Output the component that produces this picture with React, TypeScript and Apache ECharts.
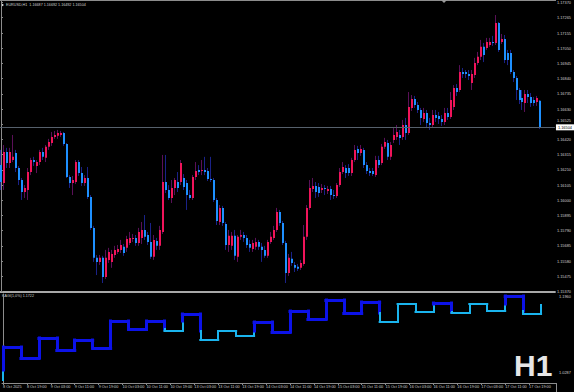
import { useEffect, useRef } from "react";
import * as echarts from "echarts";

// ---- Candle data (EURUSD H1), bar 0 = 8 Oct 11:00 ... bar 180 = 17 Oct 23:00 ----
const OPEN = [
  1.16243, 1.16119, 1.16334, 1.16257, 1.16278, 1.16327, 1.16223, 1.1614, 1.16057, 1.16071,
  1.16195, 1.16278, 1.16237, 1.16264, 1.16334, 1.16293, 1.16369, 1.16396, 1.16438, 1.16445,
  1.16451, 1.16465, 1.16389, 1.16161, 1.16119, 1.16126, 1.16264, 1.16188, 1.16119, 1.16154,
  1.16023, 1.15809, 1.15602, 1.15574, 1.15602, 1.1547, 1.15588, 1.15574, 1.15622, 1.15643,
  1.15657, 1.15678, 1.15671, 1.15705, 1.15733, 1.1574, 1.15705, 1.1574, 1.15795, 1.1576,
  1.15712, 1.15609, 1.15719, 1.15685, 1.15781, 1.16126, 1.16071, 1.16016, 1.16085, 1.16126,
  1.16126, 1.16154, 1.16119, 1.16036, 1.16016, 1.16161, 1.16209, 1.16202, 1.16209, 1.16202,
  1.16147, 1.1614, 1.16002, 1.1585, 1.15947, 1.15836, 1.15691, 1.15685, 1.15754, 1.15609,
  1.15747, 1.1576, 1.1574, 1.15698, 1.15664, 1.15678, 1.15712, 1.15678, 1.15657, 1.15616,
  1.15712, 1.1574, 1.15795, 1.15919, 1.15843, 1.15705, 1.15497, 1.15595, 1.15553, 1.1554,
  1.15533, 1.1556, 1.15747, 1.15947, 1.16078, 1.16099, 1.16092, 1.16071, 1.16085, 1.16064,
  1.16078, 1.16036, 1.1603, 1.16105, 1.16195, 1.16223, 1.16223, 1.16188, 1.16278, 1.16355,
  1.16327, 1.16348, 1.16243, 1.16202, 1.16202, 1.16174, 1.16278, 1.16257, 1.16369, 1.16396,
  1.163, 1.16417, 1.16438, 1.16451, 1.16438, 1.1652, 1.16465, 1.16638, 1.167, 1.16658,
  1.16624, 1.16562, 1.16603, 1.16534, 1.1652, 1.16589, 1.16583, 1.16562, 1.16541, 1.16603,
  1.16576, 1.16645, 1.16776, 1.16762, 1.16886, 1.16886, 1.16872, 1.1681, 1.16865, 1.16948,
  1.16991, 1.1706, 1.17053, 1.17073, 1.17094, 1.17087, 1.17225, 1.17094, 1.17115, 1.17018,
  1.17018, 1.16886, 1.16845, 1.16762, 1.16707, 1.16672, 1.16734, 1.16714, 1.16693, 1.16679,
  1.16687,
];
const HIGH = [
  1.16348, 1.16382, 1.16362, 1.16362, 1.16451, 1.16348, 1.16237, 1.16154, 1.16105, 1.16223,
  1.16293, 1.163, 1.16278, 1.16348, 1.16362, 1.16382, 1.16424, 1.16472, 1.16479, 1.16486,
  1.16479, 1.16472, 1.16396, 1.16174, 1.16168, 1.16278, 1.16278, 1.1623, 1.16174, 1.1623,
  1.16036, 1.15823, 1.15622, 1.15622, 1.15616, 1.15657, 1.15671, 1.15657, 1.15685, 1.15691,
  1.15726, 1.15698, 1.15754, 1.15781, 1.15767, 1.1576, 1.15809, 1.1585, 1.15898, 1.15781,
  1.15843, 1.1576, 1.1574, 1.15823, 1.16313, 1.16313, 1.16105, 1.1614, 1.16154, 1.16195,
  1.16278, 1.16181, 1.1614, 1.16071, 1.16174, 1.16264, 1.16243, 1.16278, 1.163, 1.16223,
  1.163, 1.16154, 1.16016, 1.15967, 1.15961, 1.1585, 1.15795, 1.15781, 1.15795, 1.1576,
  1.15795, 1.15781, 1.1576, 1.15726, 1.15726, 1.1574, 1.15726, 1.15705, 1.15685, 1.15726,
  1.15781, 1.15823, 1.15947, 1.15933, 1.15857, 1.15719, 1.15629, 1.15643, 1.15574, 1.1556,
  1.15588, 1.15829, 1.15967, 1.1614, 1.16154, 1.16126, 1.16119, 1.16112, 1.16105, 1.16099,
  1.16099, 1.16071, 1.16119, 1.16223, 1.16264, 1.16243, 1.1625, 1.16293, 1.16382, 1.16376,
  1.16382, 1.16362, 1.16264, 1.16223, 1.16223, 1.16307, 1.16307, 1.16389, 1.16431, 1.16417,
  1.16403, 1.165, 1.1652, 1.16486, 1.16555, 1.16569, 1.16748, 1.16727, 1.16721, 1.16679,
  1.16638, 1.16638, 1.16624, 1.16569, 1.16624, 1.16624, 1.1661, 1.16589, 1.16638, 1.16638,
  1.16748, 1.16796, 1.16803, 1.16934, 1.16914, 1.169, 1.169, 1.169, 1.16984, 1.17025,
  1.17108, 1.17087, 1.17122, 1.17122, 1.17136, 1.1728, 1.17232, 1.17149, 1.17142, 1.17039,
  1.17039, 1.169, 1.16859, 1.16776, 1.16762, 1.16762, 1.16762, 1.16741, 1.16714, 1.16721,
  1.16692,
];
const LOW = [
  1.16071, 1.16071, 1.16223, 1.16223, 1.16264, 1.16195, 1.16105, 1.16002, 1.16016, 1.16002,
  1.16174, 1.16237, 1.16188, 1.16243, 1.16278, 1.16264, 1.16348, 1.16376, 1.16424, 1.16424,
  1.16438, 1.16376, 1.16154, 1.16085, 1.16036, 1.16112, 1.16168, 1.16099, 1.16099, 1.16009,
  1.15795, 1.15574, 1.15483, 1.15553, 1.15428, 1.15456, 1.15567, 1.15533, 1.15602, 1.15629,
  1.15636, 1.15616, 1.15643, 1.15691, 1.15712, 1.15685, 1.15685, 1.15698, 1.15726, 1.15691,
  1.15595, 1.15588, 1.15657, 1.15657, 1.15767, 1.1605, 1.16002, 1.15981, 1.16036, 1.16057,
  1.16105, 1.16071, 1.15933, 1.16002, 1.16002, 1.1614, 1.16174, 1.16174, 1.16174, 1.16133,
  1.16126, 1.15988, 1.15829, 1.15829, 1.15823, 1.15657, 1.15643, 1.15657, 1.15588, 1.15574,
  1.15726, 1.15712, 1.15671, 1.15643, 1.15643, 1.15657, 1.15657, 1.15574, 1.15602, 1.15602,
  1.15698, 1.15726, 1.15781, 1.15823, 1.15691, 1.15428, 1.15477, 1.15547, 1.15504, 1.15511,
  1.15518, 1.15547, 1.15726, 1.15933, 1.16057, 1.16016, 1.16023, 1.1605, 1.16036, 1.16043,
  1.16002, 1.16009, 1.16016, 1.16092, 1.16181, 1.16154, 1.16168, 1.16168, 1.16264, 1.16278,
  1.16307, 1.16223, 1.16181, 1.16168, 1.16168, 1.16161, 1.16223, 1.16243, 1.16355, 1.16278,
  1.16278, 1.16396, 1.16417, 1.16382, 1.16417, 1.16417, 1.16451, 1.16617, 1.16638, 1.16603,
  1.1652, 1.16541, 1.165, 1.16486, 1.16507, 1.16541, 1.16527, 1.16514, 1.1652, 1.16555,
  1.16562, 1.16624, 1.16721, 1.16748, 1.16845, 1.16845, 1.16831, 1.16762, 1.16845, 1.16934,
  1.16969, 1.16955, 1.17039, 1.1706, 1.17067, 1.17073, 1.17025, 1.1708, 1.16948, 1.16934,
  1.16872, 1.16817, 1.16693, 1.16665, 1.16624, 1.1661, 1.16672, 1.16645, 1.16652, 1.16652,
  1.16492,
];
const CLOSE = [
  1.16126, 1.16334, 1.16257, 1.16334, 1.163, 1.16223, 1.1614, 1.16057, 1.16085, 1.16195,
  1.16278, 1.16264, 1.16264, 1.16334, 1.163, 1.16369, 1.16403, 1.16438, 1.16451, 1.16465,
  1.16465, 1.16389, 1.16161, 1.16119, 1.1614, 1.16264, 1.16188, 1.16119, 1.16154, 1.16023,
  1.15809, 1.15602, 1.15574, 1.15602, 1.1547, 1.15602, 1.15643, 1.15629, 1.15657, 1.15664,
  1.15691, 1.15636, 1.15733, 1.1574, 1.1574, 1.15705, 1.15781, 1.15795, 1.15747, 1.15712,
  1.15609, 1.15726, 1.15685, 1.15795, 1.16126, 1.16071, 1.16016, 1.16085, 1.1614, 1.16085,
  1.16257, 1.16092, 1.16036, 1.16016, 1.16161, 1.16202, 1.16195, 1.16209, 1.16195, 1.16147,
  1.1614, 1.16002, 1.15857, 1.15947, 1.15843, 1.15691, 1.15754, 1.15754, 1.15616, 1.15747,
  1.1576, 1.1574, 1.15691, 1.15671, 1.15705, 1.15712, 1.15678, 1.15657, 1.15616, 1.15712,
  1.15747, 1.15795, 1.15919, 1.15843, 1.15705, 1.15497, 1.15602, 1.15567, 1.15533, 1.15526,
  1.15567, 1.15747, 1.15947, 1.16085, 1.16099, 1.16057, 1.1605, 1.16085, 1.16078, 1.16078,
  1.16036, 1.1603, 1.16105, 1.16195, 1.1623, 1.16188, 1.16188, 1.16278, 1.16348, 1.16327,
  1.16355, 1.16243, 1.16202, 1.16188, 1.16181, 1.16278, 1.16243, 1.16369, 1.16403, 1.163,
  1.16382, 1.16451, 1.16472, 1.16431, 1.1652, 1.16465, 1.16645, 1.167, 1.16658, 1.16624,
  1.16569, 1.16603, 1.16534, 1.1652, 1.16589, 1.16569, 1.16562, 1.16541, 1.16603, 1.16576,
  1.16693, 1.16776, 1.16748, 1.16886, 1.16872, 1.16872, 1.16859, 1.16872, 1.16948, 1.16991,
  1.1706, 1.17004, 1.17094, 1.17094, 1.17087, 1.17225, 1.17039, 1.17115, 1.16969, 1.16969,
  1.16886, 1.16845, 1.16762, 1.16693, 1.16679, 1.16734, 1.16714, 1.16672, 1.16672, 1.16707,
  1.16504,
];

// ---- Axis labels ----
const PRICE_TICKS = [
  1.1737, 1.17265, 1.17155, 1.1705, 1.16945, 1.1684, 1.16735, 1.1663, 1.16525, 1.1642,
  1.16315, 1.1621, 1.16105, 1.16, 1.15895, 1.1579, 1.15685, 1.1558, 1.15475, 1.1537,
];
const TICK_BARS = [0, 8, 16, 24, 32, 40, 48, 56, 64, 72, 80, 88, 96, 104, 112, 120, 128, 136, 144, 152, 160, 168, 176];
const TICK_LABELS = [
  "8 Oct 2025", "8 Oct 19:00", "9 Oct 03:00", "9 Oct 11:00", "9 Oct 19:00", "10 Oct 03:00",
  "10 Oct 11:00", "10 Oct 19:00", "13 Oct 03:00", "13 Oct 11:00", "13 Oct 19:00", "14 Oct 03:00",
  "14 Oct 11:00", "14 Oct 19:00", "15 Oct 03:00", "15 Oct 11:00", "15 Oct 19:00", "16 Oct 03:00",
  "16 Oct 11:00", "16 Oct 19:00", "17 Oct 03:00", "17 Oct 11:00", "17 Oct 19:00",
];

// ---- Kagi indicator ----
const KAGI_START = 1.0343;
const KAGI_START_HIGH = 1.0529;
const KAGI_BARS = [0, 6, 12, 18, 24, 30, 36, 42, 48, 54, 60, 66, 72, 78, 84, 90, 96, 102, 108, 114, 120, 126, 132, 138, 144, 150, 156, 162, 168, 174, 180];
const KAGI_LEVELS = [
  1.0956, 1.0752, 1.1124, 1.09, 1.1086, 1.0938, 1.144, 1.1291, 1.144, 1.1254,
  1.157, 1.1086, 1.1254, 1.1161, 1.1421, 1.1235, 1.1625, 1.1477, 1.183, 1.1588,
  1.1793, 1.1421, 1.1756, 1.1607, 1.1774, 1.1588, 1.1756, 1.1625, 1.1904, 1.157,
  1.1737,
];

const HEADER = "EURUSD,H1  1.16687 1.16692 1.16492 1.16504";
const KAGI_TITLE = "KAGI(1,0%) 1.1722";
const IND_MAX_LABEL = "1.1960";
const IND_MIN_LABEL = "1.0287";

const BULL = "#f0145a";
const BEAR = "#1e90ff";
const WICK_BULL = "#5a1058";
const WICK_BEAR = "#1a2288";
const YANG = "#0c12e8";
const YIN = "#1ab4ee";
const TXT = "#cfcfcf";
const AXIS = "#8c8c8c";
const FONT = "Liberation Sans";

function buildKagi() {
  const segs: any[] = [];
  const push = (x1: number, y1: number, x2: number, y2: number, yang: boolean) => {
    segs.push({
      coords: [[x1, y1], [x2, y2]],
      lineStyle: { color: yang ? YANG : YIN, width: yang ? 3 : 2, cap: "square", opacity: 1 },
    });
  };
  let prev = KAGI_START;
  let hi = KAGI_START_HIGH;
  let lo = KAGI_START;
  let yang = false;
  for (let k = 0; k < KAGI_LEVELS.length; k++) {
    const b = KAGI_BARS[k];
    const v = KAGI_LEVELS[k];
    if (v > prev) {
      if (!yang && v > hi) {
        push(b, prev, b, hi, false);
        push(b, hi, b, v, true);
        yang = true;
      } else push(b, prev, b, v, yang);
    } else {
      if (yang && v < lo) {
        push(b, prev, b, lo, true);
        push(b, lo, b, v, false);
        yang = false;
      } else push(b, prev, b, v, yang);
    }
    hi = Math.max(prev, v);
    lo = Math.min(prev, v);
    const nb = k + 1 < KAGI_BARS.length ? KAGI_BARS[k + 1] : b;
    if (nb > b) push(b, v, nb, v, yang);
    prev = v;
  }
  return segs;
}

export default function App() {
  const ref = useRef<HTMLDivElement>(null);
  useEffect(() => {
    if (!ref.current) return;
    const chart = echarts.init(ref.current, null, { renderer: "svg" });
    const candleData = OPEN.map((o, i) => [i, o, CLOSE[i], LOW[i], HIGH[i]]);
    const lastClose = CLOSE[CLOSE.length - 1];
    const xMin = -1 / 3;
    const xMax = 185;
    const option: any = {
      animation: false,
      backgroundColor: "#000000",
      grid: [
        { left: 0, top: 1, width: 556, height: 291 },
        { left: 0, top: 294, width: 556, height: 89 },
      ],
      xAxis: [
        {
          type: "value", gridIndex: 0, min: xMin, max: xMax,
          axisLine: { show: true, lineStyle: { color: "#a8a8a8", width: 2 } },
          axisTick: { show: false }, axisLabel: { show: false }, splitLine: { show: false },
        },
        {
          type: "value", gridIndex: 1, min: xMin, max: xMax,
          axisLine: { show: true, lineStyle: { color: AXIS, width: 1 } },
          axisTick: { show: true, customValues: TICK_BARS, length: 2, lineStyle: { color: AXIS } },
          axisLabel: {
            show: true, customValues: TICK_BARS, margin: 2, align: "left",
            fontSize: 3.8, color: TXT, fontFamily: FONT,
            formatter: (v: number) => TICK_LABELS[TICK_BARS.indexOf(Math.round(v))] ?? "",
          },
          splitLine: { show: false },
        },
      ],
      yAxis: [
        {
          type: "value", gridIndex: 0, position: "right", min: 1.15366, max: 1.17377,
          axisLine: { show: true, lineStyle: { color: AXIS } },
          axisTick: { show: true, customValues: PRICE_TICKS, length: 2, lineStyle: { color: AXIS } },
          axisLabel: {
            show: true, customValues: PRICE_TICKS, margin: 2, fontSize: 3.9, color: TXT, fontFamily: FONT,
            formatter: (v: number) => {
              const s = v.toFixed(5);
              // the label next to the current-price box sits slightly higher, as in the terminal
              return Math.abs(v - CLOSE[CLOSE.length - 1]) < 0.0004 ? `{up|${s}}` : s;
            },
            rich: { up: { fontSize: 3.9, color: TXT, fontFamily: FONT, padding: [0, 0, 7, 0] } },
          },
          splitLine: { show: false },
        },
        {
          type: "value", gridIndex: 1, position: "right", min: 1.0287, max: 1.1942,
          axisLine: { show: true, lineStyle: { color: AXIS } },
          axisTick: { show: false }, axisLabel: { show: false }, splitLine: { show: false },
        },
      ],
      series: [
        {
          type: "line", xAxisIndex: 0, yAxisIndex: 0,
          data: CLOSE.map((c, i) => [i, c]),
          symbol: "none", lineStyle: { opacity: 0 }, silent: true,
          markLine: {
            silent: true, symbol: ["none", "none"],
            lineStyle: { color: "#56606c", width: 1, type: "solid" },
            label: {
              show: true, position: "end", distance: 1,
              formatter: () => lastClose.toFixed(5),
              backgroundColor: "#ffffff", color: "#000000", fontSize: 3.9, fontFamily: FONT,
              padding: [1, 2, 1, 2],
            },
            data: [[{ coord: [xMin, lastClose] }, { coord: [xMax, lastClose] }]],
          },
        },
        {
          type: "custom", xAxisIndex: 0, yAxisIndex: 0, data: candleData,
          encode: { x: 0, y: [1, 2, 3, 4] },
          renderItem: (_p: any, api: any) => {
            const i = api.value(0), o = api.value(1), c = api.value(2), l = api.value(3), h = api.value(4);
            const pO = api.coord([i, o]), pC = api.coord([i, c]), pH = api.coord([i, h]), pL = api.coord([i, l]);
            const bull = c >= o;
            const x0 = Math.floor(pO[0]);
            const top = Math.min(pO[1], pC[1]);
            const bot = Math.max(pO[1], pC[1]);
            return {
              type: "group",
              children: [
                { type: "line", shape: { x1: x0 + 0.5, y1: pH[1], x2: x0 + 0.5, y2: pL[1] },
                  style: { stroke: bull ? WICK_BULL : WICK_BEAR, lineWidth: 1 } },
                { type: "rect", shape: { x: x0, y: top, width: 2, height: Math.max(1, bot - top) },
                  style: { fill: bull ? BULL : BEAR } },
              ],
            };
          },
        },
        {
          type: "lines", coordinateSystem: "cartesian2d", xAxisIndex: 1, yAxisIndex: 1,
          polyline: false, silent: true, data: buildKagi(),
        },
      ],
      graphic: [
        { type: "rect", shape: { x: 0, y: 0, width: 556, height: 1 }, style: { fill: AXIS } },
        { type: "line", shape: { x1: 556.5, y1: 383, x2: 556.5, y2: 392 }, style: { stroke: AXIS, lineWidth: 1 } },
        { type: "polygon", shape: { points: [[441, 0], [447, 0], [444, 3]] }, style: { fill: "#9a9a9a" } },
        { type: "polygon", shape: { points: [[1, 3], [4, 5], [1, 7]] }, style: { fill: "#e0e0e0" } },
        { type: "text", x: 6, y: 5, style: { text: HEADER, fill: TXT, fontSize: 3.7, fontFamily: FONT, verticalAlign: "middle" } },
        { type: "text", x: 2, y: 296, style: { text: KAGI_TITLE, fill: TXT, fontSize: 3.7, fontFamily: FONT, verticalAlign: "middle" } },
        { type: "text", x: 559, y: 296, style: { text: IND_MAX_LABEL, fill: TXT, fontSize: 3.9, fontFamily: FONT, verticalAlign: "middle" } },
        { type: "text", x: 559, y: 372, style: { text: IND_MIN_LABEL, fill: TXT, fontSize: 3.9, fontFamily: FONT, verticalAlign: "middle" } },
        { type: "text", x: 514, y: 365, style: { text: "H1", fill: "#e6e6e6", fontSize: 30, fontWeight: "bold", fontFamily: FONT, verticalAlign: "middle" } },
      ],
    };
    chart.setOption(option);
    return () => chart.dispose();
  }, []);
  return (
    <div
      ref={ref}
      style={{ position: "fixed", left: 0, top: 0, width: 574, height: 392, background: "#000" }}
    />
  );
}
